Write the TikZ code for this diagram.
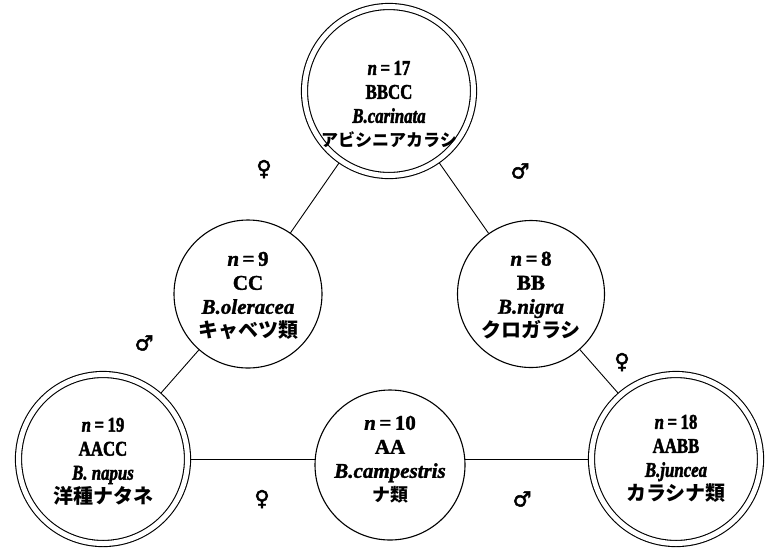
\documentclass[tikz,border=0pt]{standalone}
\usepackage{fontspec}
\setmainfont{Liberation Serif}[BoldFeatures={FakeBold=1.5}, BoldItalicFeatures={FakeBold=1.5}]
\newfontfamily\condfont{Liberation Serif}[FakeStretch=0.8, BoldFeatures={FakeBold=2}, BoldItalicFeatures={FakeBold=2}]
\newfontfamily\jpfont{Noto Sans CJK JP}
\newfontfamily\symfont{DejaVu Sans}[FakeBold=2.5]
\usetikzlibrary{backgrounds}
\tikzset{
  sp/.style={circle, draw, line width=1.1pt, fill=white, inner sep=0pt},
  dbl/.style={sp, double, double distance=5pt},
  lbl/.style={inner sep=0pt, font=\fontsize{21}{24}\selectfont\bfseries},
  conn/.style={line width=0.9pt},
  sex/.style={inner sep=0pt, font=\symfont\fontsize{21}{21}\selectfont},
}
% #1 n, #2 genome, #3 species, #4 japanese, #5 latin font switch, #6 japanese size
\newcommand{\gtxt}[6]{#5\begin{tabular}{@{}c@{}}{\itshape n}\,=\,#1\\#2\\{\itshape #3}\\{\jpfont\fontsize{#6}{24}\selectfont #4}\end{tabular}}
\begin{document}
\begin{tikzpicture}[x=1pt,y=-1pt]
\useasboundingbox (0,0) rectangle (773,550);
% circles
\node[dbl, minimum size=169pt] (BBCC) at (389,91) {};
\node[sp, minimum size=148pt] (CC) at (248,294) {};
\node[sp, minimum size=147pt] (BB) at (531,294) {};
\node[dbl, minimum size=169pt] (AACC) at (103,459) {};
\node[sp, minimum size=150pt] (AA) at (390,465) {};
\node[dbl, minimum size=169pt] (AABB) at (676,459) {};
% texts
\node[lbl] (BBCCt) at (389,106) {\gtxt{17}{BBCC}{B.carinata}{アビシニアカラシ}{\condfont}{17}};
\node[lbl] (CCt) at (248,297) {\gtxt{9}{CC}{B.oleracea}{キャベツ類}{}{20}};
\node[lbl] (BBt) at (531,297) {\gtxt{8}{BB}{B.nigra}{クロガラシ}{}{20}};
\node[lbl] (AACCt) at (103,463) {\gtxt{19}{AACC}{B. napus}{洋種ナタネ}{\condfont}{20}};
\node[lbl] (AAt) at (390,461) {\gtxt{10}{AA}{B.campestris}{ナ類}{}{18}};
\node[lbl] (AABBt) at (676,460) {\gtxt{18}{AABB}{B.juncea}{カラシナ類}{\condfont}{20}};
% connectors
\begin{scope}[on background layer]
\draw[conn] (CC) -- (BBCC);
\draw[conn] (BBCC) -- (BB);
\draw[conn] (CC) -- (AACC);
\draw[conn] (BB) -- (AABB);
\draw[conn] (AACC) -- (AACC -| AA);
\draw[conn] (AABB -| AA) -- (AABB);
\end{scope}
% sex symbols
\node[sex] (f1) at (264,169) {♀};
\node[sex] (m1) at (520,171) {♂};
\node[sex] (m2) at (144,343) {♂};
\node[sex] (f2) at (622,362) {♀};
\node[sex] (f3) at (262,499) {♀};
\node[sex] (m3) at (522,499) {♂};
\end{tikzpicture}
\end{document}
